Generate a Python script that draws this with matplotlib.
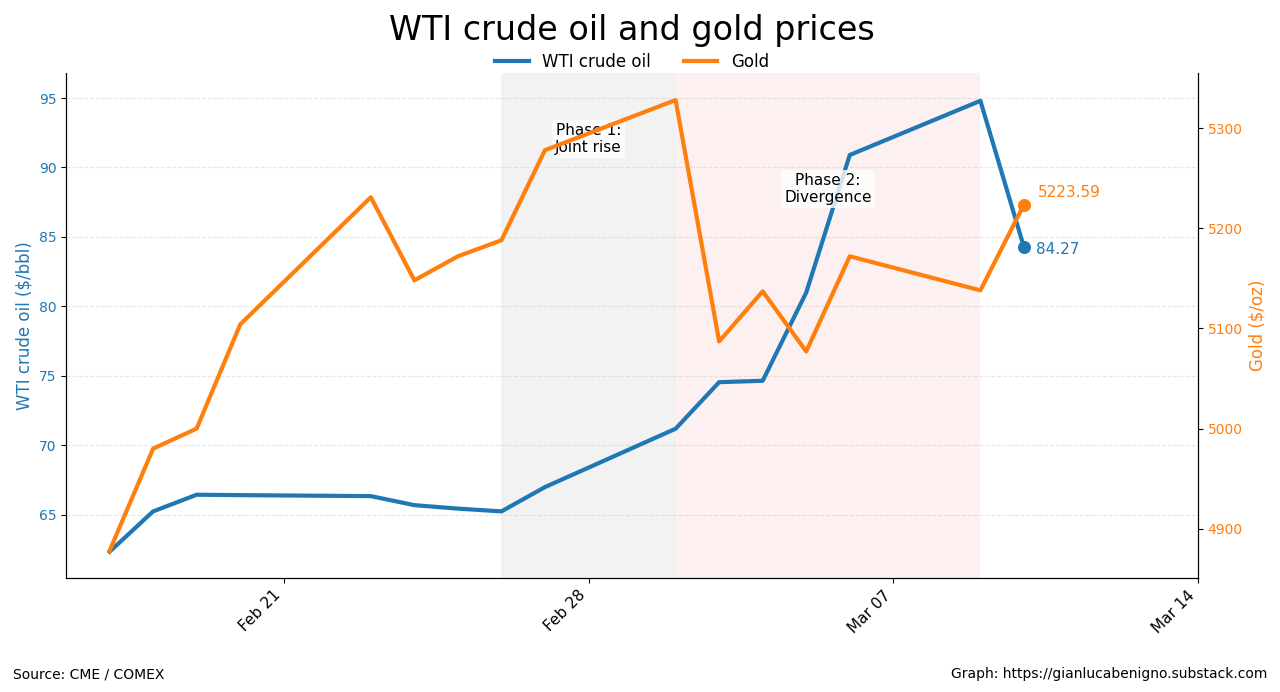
import matplotlib
matplotlib.use("Agg")
import matplotlib.pyplot as plt
import matplotlib.dates as mdates
import pandas as pd

# Daily closes
dates = pd.to_datetime([
    "2026-02-17", "2026-02-18", "2026-02-19", "2026-02-20", "2026-02-23",
    "2026-02-24", "2026-02-25", "2026-02-26", "2026-02-27", "2026-03-02",
    "2026-03-03", "2026-03-04", "2026-03-05", "2026-03-06", "2026-03-09",
    "2026-03-10",
])
wti = [62.35, 65.25, 66.45, 66.42, 66.35, 65.7, 65.45, 65.25, 67.0, 71.2,
       74.55, 74.65, 81.0, 90.9, 94.8, 84.27]
gold = [4878, 4980, 5000, 5104, 5231, 5148, 5172, 5188, 5278, 5328,
        5087, 5137, 5077, 5172, 5138, 5223.59]

phase1 = ("2026-02-26", "2026-03-02")
phase2 = ("2026-03-02", "2026-03-09")

blue = "#1f77b4"
orange = "#ff7f0e"

fig, ax1 = plt.subplots(figsize=(12.8, 6.92), dpi=100)
fig.subplots_adjust(left=0.0516, right=0.936, top=0.8945, bottom=0.165)
xc = (0.0516 + 0.936) / 2  # centre of the axes, title and legend sit over it

ax1.axvspan(pd.Timestamp(phase1[0]), pd.Timestamp(phase1[1]), color="gray", alpha=0.1, lw=0)
ax1.axvspan(pd.Timestamp(phase2[0]), pd.Timestamp(phase2[1]), color="#e57373", alpha=0.1, lw=0)

l1, = ax1.plot(dates, wti, color=blue, lw=3, label="WTI crude oil")
ax1.scatter([dates[-1]], [wti[-1]], color=blue, s=70, zorder=5)
ax1.annotate(f"{wti[-1]:.2f}", (dates[-1], wti[-1]), xytext=(9, -2),
             textcoords="offset points", color=blue, fontsize=11, va="center")

ax2 = ax1.twinx()
l2, = ax2.plot(dates, gold, color=orange, lw=3, label="Gold")
ax2.scatter([dates[-1]], [gold[-1]], color=orange, s=70, zorder=5)
ax2.annotate(f"{gold[-1]:.2f}", (dates[-1], gold[-1]), xytext=(10, 9),
             textcoords="offset points", color=orange, fontsize=11, va="center")

ax1.set_xlim(pd.Timestamp("2026-02-16"), pd.Timestamp("2026-03-14"))
ax1.set_ylim(60.47, 96.8)
ax2.set_ylim(4851, 5355)
ax1.xaxis.set_major_locator(mdates.DayLocator(bymonthday=[7, 14, 21, 28]))
ax1.xaxis.set_major_formatter(mdates.DateFormatter("%b %d"))
plt.setp(ax1.get_xticklabels(), rotation=45, ha="right", fontsize=11)

ax1.set_ylabel("WTI crude oil ($/bbl)", color=blue, fontsize=12)
ax2.set_ylabel("Gold ($/oz)", color=orange, fontsize=12)
ax1.tick_params(axis="y", labelcolor=blue)
ax2.tick_params(axis="y", labelcolor=orange)
ax1.grid(axis="y", ls="--", alpha=0.3)

for a in (ax1, ax2):
    a.spines["top"].set_visible(False)

ax1.text(pd.Timestamp("2026-02-28"), 0.869, "Phase 1:\nJoint rise", transform=ax1.get_xaxis_transform(),
         ha="center", va="center", fontsize=11, bbox=dict(facecolor="white", edgecolor="none", alpha=0.8, pad=2))
ax1.text(pd.Timestamp("2026-03-05 12:00"), 0.770, "Phase 2:\nDivergence", transform=ax1.get_xaxis_transform(),
         ha="center", va="center", fontsize=11, bbox=dict(facecolor="white", edgecolor="none", alpha=0.8, pad=2))

fig.suptitle("WTI crude oil and gold prices", fontsize=24, x=xc, y=0.98)
fig.legend([l1, l2], ["WTI crude oil", "Gold"], loc="upper center", ncol=2,
           frameon=False, fontsize=12, bbox_to_anchor=(xc, 0.945))

fig.text(0.01, 0.02, "Source: CME / COMEX", fontsize=10)
fig.text(0.99, 0.02, "Graph: https://gianlucabenigno.substack.com", fontsize=10, ha="right")

fig.savefig("out.png", dpi=100)
